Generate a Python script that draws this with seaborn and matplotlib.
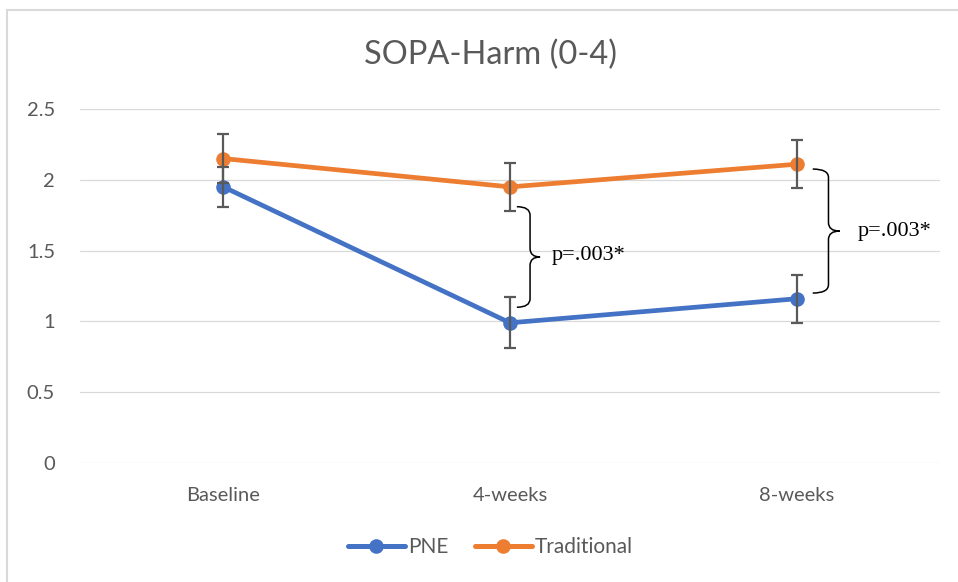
import numpy as np
import pandas as pd
import seaborn as sns
import matplotlib.pyplot as plt
from matplotlib.path import Path
from matplotlib.patches import PathPatch
from matplotlib.lines import Line2D

# data
timepoints = ['Baseline', '4-weeks', '8-weeks']
pne_mean = [1.95, 0.99, 1.16]
pne_err = [0.14, 0.18, 0.17]
trad_mean = [2.15, 1.95, 2.11]
trad_err = [0.17, 0.17, 0.17]
p_labels = ['p=.003*', 'p=.003*']

df = pd.DataFrame({
    'time': timepoints * 2,
    'score': pne_mean + trad_mean,
    'group': ['PNE'] * 3 + ['Traditional'] * 3,
})

sns.set_style('white')
plt.rcParams['font.family'] = ['Lato', 'DejaVu Sans']

blue = '#4472C4'
orange = '#ED7D31'
grey = '#595959'

fig = plt.figure(figsize=(9.58, 5.82), dpi=100)
ax = fig.add_axes([0.0835, 0.2045, 0.8977, 0.6082])

sns.lineplot(data=df, x='time', y='score', hue='group', palette=[blue, orange],
             marker='o', markersize=10.5, markeredgewidth=0, linewidth=3.4,
             ax=ax, legend=False, zorder=3)

# error bars
ax.errorbar(timepoints, pne_mean, yerr=pne_err, fmt='none', ecolor=grey,
            elinewidth=1.6, capsize=4.5, capthick=1.6, zorder=4)
ax.errorbar(timepoints, trad_mean, yerr=trad_err, fmt='none', ecolor=grey,
            elinewidth=1.6, capsize=4.5, capthick=1.6, zorder=4)

ax.set_xlim(-0.5, 2.5)
ax.set_ylim(0, 2.5)
ax.set_yticks([0, 0.5, 1, 1.5, 2, 2.5])
ax.set_yticklabels(['0', '0.5', '1', '1.5', '2', '2.5'])
ax.grid(axis='y', color='#d9d9d9', linewidth=0.9)
ax.set_axisbelow(True)
for s in ax.spines.values():
    s.set_visible(False)
ax.tick_params(axis='both', length=0, labelsize=14.5, labelcolor=grey)
ax.tick_params(axis='y', pad=18)
ax.tick_params(axis='x', pad=17)
ax.set_xlabel('')
ax.set_ylabel('')


def brace(ax, x0, x1, x2, yt, yb, r=0.06):
    ym = (yt + yb) / 2
    verts = [(x0, yt), (x1, yt), (x1, yt - r), (x1, ym + r), (x1, ym), (x2, ym),
             (x1, ym), (x1, ym - r), (x1, yb + r), (x1, yb), (x0, yb)]
    codes = [Path.MOVETO, Path.CURVE3, Path.CURVE3, Path.LINETO, Path.CURVE3, Path.CURVE3,
             Path.CURVE3, Path.CURVE3, Path.LINETO, Path.CURVE3, Path.CURVE3]
    ax.add_patch(PathPatch(Path(verts, codes), fill=False, color='black', lw=1.1, zorder=5))
    return ym


ym = brace(ax, 1.024, 1.07, 1.105, 1.81, 1.10)
ax.text(1.146, ym + 0.01, p_labels[0], family='Liberation Serif', fontsize=16,
        va='center', ha='left', color='black')
ym = brace(ax, 2.056, 2.111, 2.15, 2.076, 1.20)
ax.text(2.213, ym, p_labels[1], family='Liberation Serif', fontsize=16,
        va='center', ha='left', color='black')

fig.suptitle('SOPA-Harm (0-4)', x=0.5125, y=0.905, fontsize=23.5, color=grey, va='center')

handles = [Line2D([], [], color=blue, lw=3.6, marker='o', markersize=10.5, markeredgewidth=0),
           Line2D([], [], color=orange, lw=3.6, marker='o', markersize=10.5, markeredgewidth=0)]
fig.legend(handles, ['PNE', 'Traditional'], loc='center', bbox_to_anchor=(0.512, 0.06),
           ncol=2, frameon=False, fontsize=15, labelcolor=grey, handlelength=2.75,
           handletextpad=0.15, columnspacing=1.25)

# chart border
fig.add_artist(Line2D([7 / 958, 1], [1 - 10 / 582, 1 - 10 / 582], color='#d9d9d9', lw=1.5,
                      transform=fig.transFigure))
fig.add_artist(Line2D([7 / 958, 7 / 958], [0, 1 - 10 / 582], color='#d9d9d9', lw=1.5,
                      transform=fig.transFigure))

fig.savefig('out.png', dpi=100)
